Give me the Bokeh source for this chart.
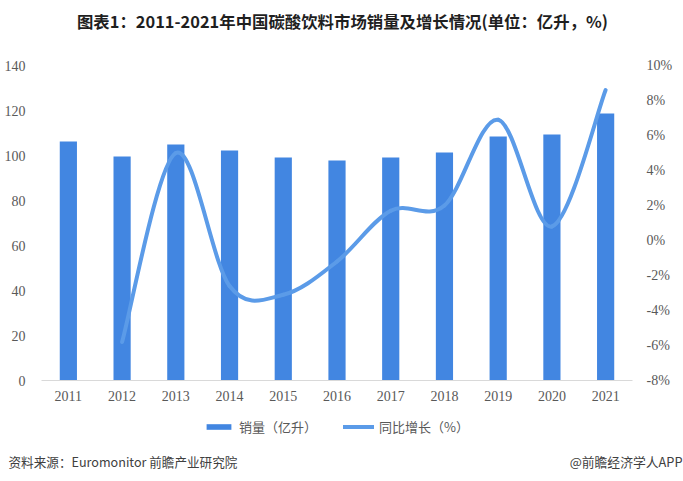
from bokeh.plotting import figure
from bokeh.models import (Range1d, LinearAxis, FixedTicker, PrintfTickFormatter,
                          Legend, LegendItem, Label, ColumnDataSource)
from bokeh.embed import file_html
from bokeh.resources import INLINE

# ---------------- data ----------------
years = [2011, 2012, 2013, 2014, 2015, 2016, 2017, 2018, 2019, 2020, 2021]
sales = [106.2, 99.6, 104.9, 102.2, 99.1, 97.8, 99.1, 101.3, 108.4, 109.3, 118.7]
growth_years = [2012, 2013, 2014, 2015, 2016, 2017, 2018, 2019, 2020, 2021]
growth = [-5.8, 5.0, -2.6, -3.1, -1.2, 1.7, 2.0, 6.9, 0.8, 8.6]
left_ticks = [0, 20, 40, 60, 80, 100, 120, 140]
right_ticks = [-8, -6, -4, -2, 0, 2, 4, 6, 8, 10]
title_text = "图表1：2011-2021年中国碳酸饮料市场销量及增长情况(单位：亿升，%)"
source_text = "资料来源：Euromonitor 前瞻产业研究院"
credit_text = "@前瞻经济学人APP"
legend_labels = ["销量（亿升）", "同比增长（%）"]

BAR = "#4286E1"
LINE = "#5B9BE8"
TICK = "#595959"
CJK = "Noto Sans CJK SC"

# ---------------- layout (pixels) ----------------
W, H = 683, 481
PL, PR, PT, PB = 41, 632, 65, 380      # plot area edges
XA, XB = years[0] - 0.5, years[-1] + 0.5
YA, YB = left_ticks[0], left_ticks[-1]
RA, RB = right_ticks[0], right_ticks[-1]

kx = (XB - XA) / (PR - PL)
ky = (YB - YA) / (PB - PT)
kr = (RB - RA) / (PB - PT)
x_range = Range1d(XA - PL * kx, XB + (W - PR) * kx)
y_range = Range1d(YA - (H - PB) * ky, YB + PT * ky)
r_range = Range1d(RA - (H - PB) * kr, RB + PT * kr)


def dx(px):
    return x_range.start + px * kx


def dy(py):
    return y_range.start + (H - py) * ky


p = figure(width=W, height=H, output_backend="svg", toolbar_location=None,
           x_range=x_range, y_range=y_range, min_border=0)
p.outline_line_color = None
p.grid.visible = False
p.extra_y_ranges = {"pct": r_range}

bars = p.vbar(x=years, top=sales, width=0.32, fill_color=BAR, line_color=None)

# smooth curve through the growth points (Catmull-Rom as cubic Bezier)
n = len(growth_years)
seg = dict(x0=[], y0=[], x1=[], y1=[], cx0=[], cy0=[], cx1=[], cy1=[])
for i in range(n - 1):
    xp, yp = (growth_years[i - 1], growth[i - 1]) if i > 0 else (growth_years[i], growth[i])
    xn, yn = (growth_years[i + 2], growth[i + 2]) if i + 2 < n else (growth_years[i + 1], growth[i + 1])
    seg["x0"].append(growth_years[i]); seg["y0"].append(growth[i])
    seg["x1"].append(growth_years[i + 1]); seg["y1"].append(growth[i + 1])
    seg["cx0"].append(growth_years[i] + (growth_years[i + 1] - xp) / 6)
    seg["cy0"].append(growth[i] + (growth[i + 1] - yp) / 6)
    seg["cx1"].append(growth_years[i + 1] - (xn - growth_years[i]) / 6)
    seg["cy1"].append(growth[i + 1] - (yn - growth[i]) / 6)
curve = p.bezier(x0="x0", y0="y0", x1="x1", y1="y1", cx0="cx0", cy0="cy0",
                 cx1="cx1", cy1="cy1", source=ColumnDataSource(seg),
                 line_color=LINE, line_width=4, line_cap="round",
                 y_range_name="pct")


def style(ax, standoff):
    ax.major_tick_line_color = None
    ax.minor_tick_line_color = None
    ax.major_tick_out = 0
    ax.major_tick_in = 0
    ax.major_label_standoff = standoff
    ax.major_label_text_font = "Liberation Serif"
    ax.major_label_text_font_size = "14px"
    ax.major_label_text_color = TICK


# x axis drawn on the zero line of the bars
xa = p.xaxis[0]
xa.ticker = FixedTicker(ticks=years)
xa.formatter = PrintfTickFormatter(format="%d")
xa.fixed_location = YA
xa.bounds = (XA, XB)
xa.axis_line_color = "#D9D9D9"
xa.axis_line_width = 1
style(xa, 10)

ya = p.yaxis[0]
ya.ticker = FixedTicker(ticks=left_ticks)
ya.fixed_location = XA
ya.axis_line_color = None
style(ya, 16)

ra = LinearAxis(y_range_name="pct", ticker=FixedTicker(ticks=right_ticks),
                formatter=PrintfTickFormatter(format="%d%%"))
ra.fixed_location = XB
ra.axis_line_color = None
style(ra, 14)
p.add_layout(ra, "right")

# legend under the axis labels
legend = Legend(items=[LegendItem(label=legend_labels[0], renderers=[bars]),
                       LegendItem(label=legend_labels[1], renderers=[curve])],
                orientation="horizontal", location=(203, H - 436),
                padding=0, margin=0, spacing=26, label_standoff=5,
                glyph_width=31, glyph_height=7, label_height=16,
                border_line_alpha=0, background_fill_alpha=0,
                label_text_font=CJK, label_text_font_size="13px",
                label_text_color=TICK)
p.add_layout(legend, "center")

# texts
p.add_layout(Label(x=dx(342), y=dy(20), text=title_text, text_align="center",
                   text_baseline="middle", text_font=CJK,
                   text_font_style="bold", text_font_size="16.4px",
                   text_color="#1F1F1F"))
p.add_layout(Label(x=dx(8), y=dy(461), text=source_text, text_align="left",
                   text_baseline="middle", text_font=CJK,
                   text_font_size="12.6px", text_color="#404040"))
p.add_layout(Label(x=dx(682), y=dy(461), text=credit_text, text_align="right",
                   text_baseline="middle", text_font=CJK,
                   text_font_size="12.8px", text_color="#404040"))

open("out.html", "w").write(file_html(p, INLINE))
